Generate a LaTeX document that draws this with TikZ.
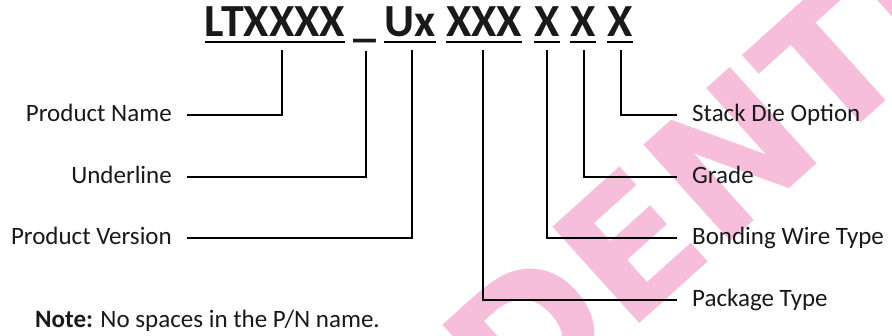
\documentclass[tikz,border=0pt]{standalone}
\usepackage{fontspec}
\setmainfont{Carlito}
\setsansfont{DejaVu Sans}
\definecolor{wmpink}{RGB}{247,190,220}
\definecolor{ink}{RGB}{25,25,25}

\begin{document}
\begin{tikzpicture}[x=1pt,y=-1pt]
  \tikzset{pn/.style = {font=\bfseries\fontsize{46}{46}\selectfont, text=ink, inner sep=0pt, text depth=0pt, anchor=base}}
  \tikzset{lbl/.style = {font=\fontsize{25}{25}\selectfont, text=ink, inner xsep=15pt, inner ysep=0pt, text height=14pt, text depth=0pt}}
  \tikzset{lead/.style = {line width=2.4pt}}
  \tikzset{bar/.style = {line width=2pt}}

  \useasboundingbox (0,0) rectangle (892,336);
  \clip (0,0) rectangle (892,336);

  % watermark
  \node[font=\sffamily\bfseries\fontsize{178}{178}\selectfont, text=wmpink, rotate=42, anchor=base west, inner sep=0pt] (wm) at (58,847) {CONFIDENTIAL};

  % part number
  \node[pn] (LT) at (275,37) {LTXXXX};
  \node[pn] (US) at (365,37) {\_};
  \node[pn] (UX) at (410,37) {Ux};
  \node[pn] (PK) at (484,37) {XXX};
  \node[pn] (BW) at (547,37) {X};
  \node[pn] (GR) at (583,37) {X};
  \node[pn] (SD) at (620,37) {X};

  \foreach \n in {LT,UX,PK,BW,GR,SD}
    \draw[bar] ([yshift=-5pt]\n.south west) -- ([yshift=-5pt]\n.south east);

  % fields
  \node[lbl, anchor=east] (pname) at (187,115) {Product Name};
  \node[lbl, anchor=east] (uline) at (187,177) {Underline};
  \node[lbl, anchor=east] (pver) at (187,238) {Product Version};
  \node[lbl, anchor=west] (sdie) at (677,115) {Stack Die Option};
  \node[lbl, anchor=west] (grade) at (677,177) {Grade};
  \node[lbl, anchor=west] (bwire) at (677,238) {Bonding Wire Type};
  \node[lbl, anchor=west] (ptype) at (677,300) {Package Type};

  \node[lbl, anchor=base west, inner xsep=0pt] (note) at (35,328) {\textbf{Note:} No spaces in the P/N name.};

  \foreach \from/\dx/\to in {LT/7/pname, US/1/uline, UX/2/pver, PK/-1/ptype, BW/0/bwire, GR/1/grade, SD/1/sdie}
    \draw[lead] ([xshift=\dx pt, yshift=-13pt]\from.south) |- (\to);
\end{tikzpicture}
\end{document}
